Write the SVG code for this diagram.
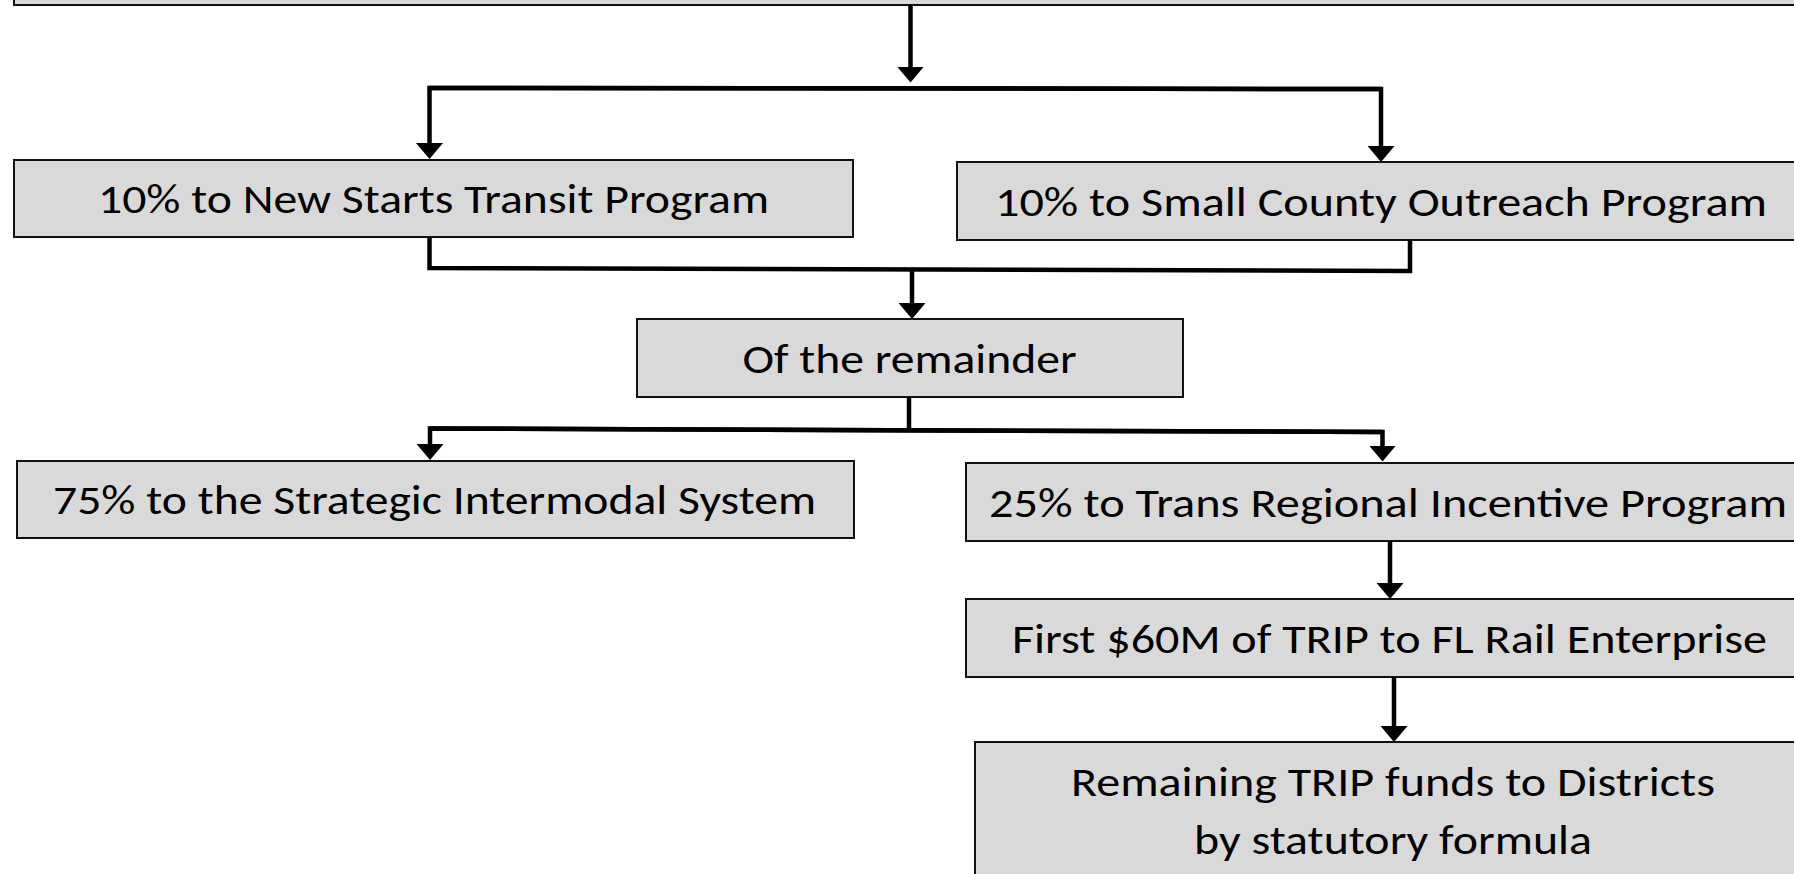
<svg xmlns="http://www.w3.org/2000/svg" width="1794" height="874" viewBox="0 0 1794 874">
<style>
.box{fill:#d9d9d9;stroke:#111;stroke-width:2}
.lbl{font-family:Carlito,Lato,"Liberation Sans",sans-serif;font-size:41px;fill:#000;text-anchor:middle}
.conn{fill:none;stroke:#000;stroke-width:4.5;stroke-linejoin:miter}
</style>
<defs>
<marker id="arr" viewBox="0 0 16 27" markerWidth="16" markerHeight="27" refX="1" refY="13.5" orient="auto" markerUnits="userSpaceOnUse">
<path d="M0,0 L16,13.5 L0,27 Z" fill="#000"/>
</marker>
</defs>
<rect width="1794" height="874" fill="#fff"/>
<g id="top"><rect class="box" x="14" y="-60" width="1800" height="65"/></g>
<g id="newstarts"><rect class="box" x="14" y="160" width="839" height="77"/><text class="lbl" x="433.5" y="213" textLength="671" lengthAdjust="spacingAndGlyphs">10% to New Starts Transit Program</text></g>
<g id="smallcounty"><rect class="box" x="957" y="162" width="860" height="78"/><text class="lbl" x="1381" y="216" textLength="772" lengthAdjust="spacingAndGlyphs">10% to Small County Outreach Program</text></g>
<g id="remainder"><rect class="box" x="637" y="319" width="546" height="78"/><text class="lbl" x="909.5" y="372.5" textLength="334" lengthAdjust="spacingAndGlyphs">Of the remainder</text></g>
<g id="sis"><rect class="box" x="17" y="461" width="837" height="77"/><text class="lbl" x="434.5" y="514" textLength="763" lengthAdjust="spacingAndGlyphs">75% to the Strategic Intermodal System</text></g>
<g id="trip"><rect class="box" x="966" y="463" width="850" height="78"/><text class="lbl" x="1388" y="516.5" textLength="798" lengthAdjust="spacingAndGlyphs">25% to Trans Regional Incentive Program</text></g>
<g id="rail"><rect class="box" x="966" y="599" width="850" height="78"/><text class="lbl" x="1389.5" y="652.5" textLength="755" lengthAdjust="spacingAndGlyphs">First $60M of TRIP to FL Rail Enterprise</text></g>
<g id="districts"><rect class="box" x="975" y="742" width="850" height="160"/><text class="lbl" x="1393" y="795.5" textLength="644" lengthAdjust="spacingAndGlyphs">Remaining TRIP funds to Districts</text><text class="lbl" x="1393" y="854" textLength="398" lengthAdjust="spacingAndGlyphs">by statutory formula</text></g>
<g id="connectors">
<path class="conn" d="M910.5,5 V67.5" marker-end="url(#arr)"/>
<path class="conn" d="M1381,89 L429.5,88 V144" marker-end="url(#arr)"/>
<path class="conn" d="M429.5,88 L1381,89 V147" marker-end="url(#arr)"/>
<path class="conn" d="M429.5,237 V268 L1410,271 V240"/>
<path class="conn" d="M912,269.5 V304" marker-end="url(#arr)"/>
<path class="conn" d="M909,397 V430"/>
<path class="conn" d="M1382.5,432 L430,428.5 V445" marker-end="url(#arr)"/>
<path class="conn" d="M430,428.5 L1382.5,432 V446.5" marker-end="url(#arr)"/>
<path class="conn" d="M1390,541 V584" marker-end="url(#arr)"/>
<path class="conn" d="M1394,677 V727" marker-end="url(#arr)"/>
</g>
</svg>
